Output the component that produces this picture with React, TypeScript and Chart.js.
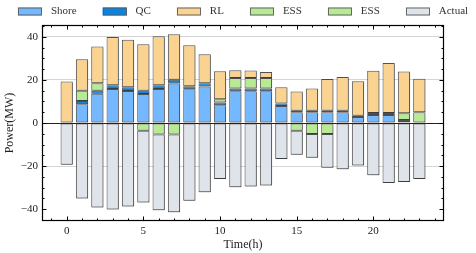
import React, { useEffect, useRef } from "react";
import { Chart, registerables } from "chart.js";

Chart.register(...registerables);

const hours = [0, 1, 2, 3, 4, 5, 6, 7, 8, 9, 10, 11, 12, 13, 14, 15, 16, 17, 18, 19, 20, 21, 22, 23];
const shore = [0, 8.7, 13.6, 15.8, 14.9, 13.5, 15.8, 18.3, 15.7, 16.9, 8.2, 14.7, 14.7, 14.7, 7.9, 5.0, 5.0, 5.0, 5.0, 2.8, 3.7, 3.7, 0.5, 0];
const qc = [0, 1.5, 1.4, 1.7, 1.7, 1.5, 1.7, 1.8, 1.4, 1.6, 1.3, 1.3, 1.3, 1.3, 1.1, 0.7, 0.7, 0.7, 0.7, 0.6, 1.0, 1.0, 0.9, 0];
const essCharge = [0, 4.8, 3.5, 0, 0, 0, 0, 0, 0, 0, 1.5, 4.9, 4.9, 4.9, 0, 0, 0, 0, 0, 0, 0, 0, 3.1, 5.0];
const rl = [19.3, 14.6, 17.0, 22.4, 22.0, 21.6, 22.8, 21.1, 19.0, 13.4, 13.0, 3.6, 3.5, 2.8, 7.6, 8.9, 10.3, 14.7, 15.6, 16.0, 19.6, 23.1, 19.4, 15.6];
const essDischarge = [0, 0, 0, 0, 0, -3.6, -5.3, -5.3, 0, 0, 0, 0, 0, 0, 0, -3.6, -5.1, -5.1, 0, 0, 0, 0, 0, 0];
const actual = [-19.4, -35.0, -39.2, -40.2, -38.8, -33.3, -35.2, -36.1, -36.1, -32.1, -26.0, -29.8, -29.5, -29.0, -16.7, -11.1, -11.0, -15.7, -21.5, -19.7, -24.3, -27.9, -27.4, -26.0];

const xTicks = [0, 5, 10, 15, 20];
const yTicks = [-40, -20, 0, 20, 40];

const FONT = '"Liberation Serif", "Times New Roman", serif';
const EDGE = "rgba(50,50,50,0.85)";

const toPoints = (arr: number[]) => hours.map((h, i) => ({ x: h, y: arr[i] === 0 ? null : arr[i] }));

const legendOrder = [0, 1, 3, 2, 4, 5];

const customPlugin = {
  id: "customDeco",
  beforeDatasetsDraw(chart: any) {
    const ctx = chart.ctx;
    ctx.save();
    ctx.shadowColor = "rgba(0,0,0,0.25)";
    ctx.shadowOffsetX = 1;
    ctx.shadowOffsetY = 1;
    ctx.shadowBlur = 0;
  },
  afterDatasetsDraw(chart: any) {
    const ctx = chart.ctx;
    ctx.restore();
    const { left, right } = chart.chartArea;
    const y0 = Math.round(chart.scales.y.getPixelForValue(0)) + 0.5;
    ctx.save();
    ctx.strokeStyle = "#222";
    ctx.lineWidth = 1;
    ctx.beginPath();
    ctx.moveTo(left, y0);
    ctx.lineTo(right, y0);
    ctx.stroke();
    ctx.restore();
  },
  afterDraw(chart: any) {
    const ctx = chart.ctx;
    const { left, right, top, bottom } = chart.chartArea;
    const xs = chart.scales.x;
    const ys = chart.scales.y;
    ctx.save();
    ctx.strokeStyle = "#000";
    ctx.lineWidth = 1;
    ctx.beginPath();
    for (let v = -1; v <= 24; v++) {
      const px = Math.round(xs.getPixelForValue(v)) + 0.5;
      const len = v % 5 === 0 ? 4.5 : 2.5;
      ctx.moveTo(px, bottom);
      ctx.lineTo(px, bottom - len);
      ctx.moveTo(px, top);
      ctx.lineTo(px, top + len);
    }
    for (let v = -45; v <= 45; v += 5) {
      const py = Math.round(ys.getPixelForValue(v)) + 0.5;
      const len = v % 20 === 0 ? 4.5 : 2.5;
      ctx.moveTo(left, py);
      ctx.lineTo(left + len, py);
      ctx.moveTo(right, py);
      ctx.lineTo(right - len, py);
    }
    ctx.stroke();
    ctx.lineWidth = 1.2;
    ctx.strokeRect(left + 0.5, top + 0.5, right - left - 1, bottom - top - 1);

    // legend
    const datasets = chart.data.datasets;
    ctx.font = "11px " + FONT;
    ctx.textBaseline = "middle";
    ctx.textAlign = "left";
    const boxW = 24;
    const boxH = 8;
    const gapText = 9;
    const gapItem = 26;
    const widths = legendOrder.map((i) => ctx.measureText(datasets[i].label).width);
    const total = widths.reduce((s, w) => s + boxW + gapText + w, 0) + gapItem * (legendOrder.length - 1);
    let x = (left + right) / 2 - total / 2;
    const cy = 11.5;
    legendOrder.forEach((di, k) => {
      const ds = datasets[di];
      ctx.fillStyle = ds.backgroundColor;
      ctx.fillRect(x, cy - boxH / 2, boxW, boxH);
      ctx.strokeStyle = "rgba(90,90,90,0.9)";
      ctx.lineWidth = 1;
      ctx.strokeRect(Math.round(x) + 0.5, cy - boxH / 2 + 0.5, boxW - 1, boxH - 1);
      ctx.fillStyle = "#333";
      ctx.fillText(ds.label, x + boxW + gapText, cy);
      x += boxW + gapText + widths[k] + gapItem;
    });
    ctx.restore();
  },
};

export default function App() {
  const ref = useRef<HTMLCanvasElement | null>(null);
  useEffect(() => {
    if (!ref.current) return;
    const mk = (label: string, arr: number[], color: string) => ({
      label,
      data: toPoints(arr),
      backgroundColor: color,
      borderColor: EDGE,
      borderWidth: 1,
      borderSkipped: false,
      barPercentage: 0.8,
      categoryPercentage: 1.0,
    });
    const chart = new Chart(ref.current, {
      type: "bar",
      data: {
        datasets: [
          mk("Shore", shore, "#74b9ff"),
          mk("QC", qc, "#0984e3"),
          mk("ESS", essCharge, "#b8e994"),
          mk("RL", rl, "#fad390"),
          mk("ESS", essDischarge, "#b8e994"),
          mk("Actual", actual, "#dfe4ea"),
        ] as any,
      },
      options: {
        animation: false,
        responsive: false,
        maintainAspectRatio: false,
        layout: { padding: { top: 25, right: 32, bottom: 0, left: 0 } },
        plugins: { legend: { display: false }, tooltip: { enabled: false } },
        scales: {
          x: {
            type: "linear",
            stacked: true,
            offset: false,
            min: -1.61,
            max: 24.61,
            grid: { display: false, offset: false, drawTicks: false },
            border: { display: false },
            afterBuildTicks: (s: any) => {
              s.ticks = xTicks.map((v) => ({ value: v }));
            },
            afterFit: (s: any) => {
              s.height = 32;
            },
            ticks: { padding: 4, color: "#222", font: { family: FONT, size: 11 }, maxRotation: 0 },
            title: { display: true, text: "Time(h)", color: "#222", font: { family: FONT, size: 12 }, padding: { top: 0, bottom: 1 } },
          },
          y: {
            type: "linear",
            stacked: true,
            min: -45.5,
            max: 45.5,
            grid: {
              drawTicks: false,
              color: (c: any) => (c.tick && (c.tick.value === 20 || c.tick.value === 40 || c.tick.value === -20) ? "#d4d4d4" : "rgba(0,0,0,0)"),
              lineWidth: 1,
            },
            border: { display: false },
            afterBuildTicks: (s: any) => {
              s.ticks = yTicks.map((v) => ({ value: v }));
            },
            afterFit: (s: any) => {
              s.width = 42;
            },
            ticks: {
              padding: 4,
              color: "#222",
              font: { family: FONT, size: 11 },
              callback: (v: any) => (Number(v) < 0 ? "\u2212" + Math.abs(Number(v)) : String(v)),
            },
            title: { display: true, text: "Power(MW)", color: "#222", font: { family: FONT, size: 12 }, padding: { top: 3, bottom: 0 } },
          },
        },
      } as any,
      plugins: [customPlugin],
    });
    return () => chart.destroy();
  }, []);
  return (
    <div style={{ position: "absolute", left: 0, top: 0, width: 476, height: 253 }}>
      <canvas ref={ref} width={476} height={253} />
    </div>
  );
}
